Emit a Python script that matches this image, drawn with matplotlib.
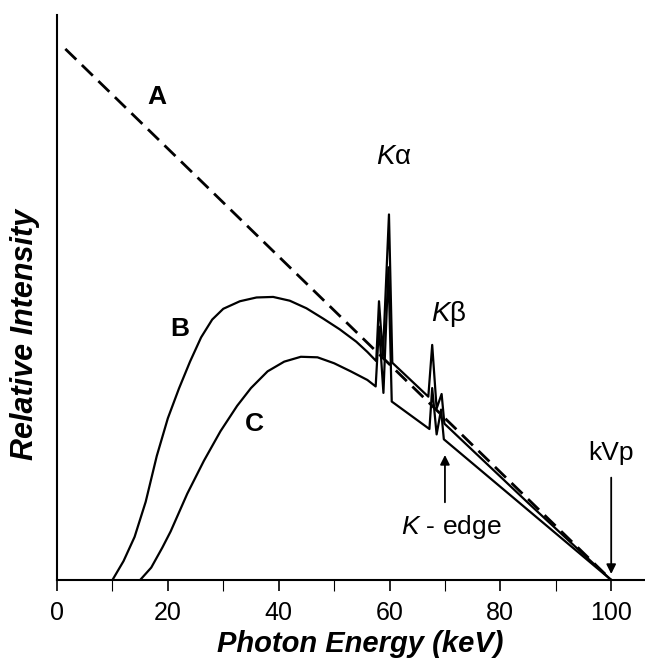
import matplotlib
matplotlib.use("Agg")
import matplotlib.pyplot as plt

plt.rcParams["font.family"] = ["Liberation Sans", "DejaVu Sans"]
plt.rcParams["mathtext.fontset"] = "custom"
plt.rcParams["mathtext.it"] = "Liberation Sans:italic"
plt.rcParams["mathtext.rm"] = "Liberation Sans"

# unfiltered spectrum (A)
energy_a = [1.5, 100]
intensity_a = [98.5, 0]

# filtered spectrum (B)
energy_b = [10, 12, 14, 16, 18, 20, 22, 24, 26, 28, 30, 33, 36, 39, 42, 45,
            48, 51, 54, 56, 57.6, 58.1, 58.8, 59.9, 60.5, 67.0, 67.7, 68.5,
            69.4, 69.9, 85, 100]
intensity_b = [0, 3.5, 8, 14.5, 23, 30, 35.5, 40.5, 45, 48.3, 50.3, 51.7,
               52.4, 52.5, 51.8, 50.4, 48.5, 46.5, 44.2, 42.3, 40.6, 51.7,
               41.5, 67.8, 40.3, 34.0, 43.6, 31.8, 34.5, 29.0, 14.3, 0]

# heavier filtration (C)
energy_c = [15, 17, 19, 20.5, 23.5, 26.5, 29.5, 32.5, 35, 38, 41, 44, 47,
            50, 53, 56, 57.5, 58.1, 58.9, 59.8, 60.4, 67.2, 67.7, 68.5, 69.3,
            69.8, 100]
intensity_c = [0, 2.3, 6, 9, 16, 22.1, 27.6, 32.3, 35.6, 38.7, 40.5, 41.4,
               41.3, 40.2, 38.7, 37.1, 35.9, 47, 34.7, 58, 33.1, 28, 35.6, 27,
               31.6, 26.1, 0]

major_ticks = [0, 20, 40, 60, 80, 100]
minor_ticks = [10, 30, 50, 70, 90]

fig = plt.figure(figsize=(6.45, 6.59), dpi=100)
ax = fig.add_axes([0.0884, 0.1199, 0.9116, 0.8574])

ax.plot(energy_a, intensity_a, color="black", lw=2, dashes=(5.5, 2.8))
ax.plot(energy_b, intensity_b, color="black", lw=1.6)
ax.plot(energy_c, intensity_c, color="black", lw=1.6)

ax.set_xlim(0, 106.1)
ax.set_ylim(0, 104.8)
for s in ["top", "right"]:
    ax.spines[s].set_visible(False)
ax.spines["left"].set_linewidth(1.5)
ax.spines["bottom"].set_linewidth(1.5)

ax.set_xticks(major_ticks)
ax.set_xticks(minor_ticks, minor=True)
ax.set_yticks([])
ax.tick_params(axis="x", which="major", direction="out", length=8, width=1.2,
               labelsize=18, pad=7)
ax.tick_params(axis="x", which="minor", direction="out", length=8, width=0.8)

ax.set_xlabel("Photon Energy (keV)", fontsize=21, fontweight="bold",
              fontstyle="italic")
ax.xaxis.set_label_coords(0.7585, -0.0885)
ax.xaxis.label.set_horizontalalignment("right")
ax.set_ylabel("Relative Intensity", fontsize=22, fontweight="bold",
              fontstyle="italic", va="center")
ax.yaxis.set_label_coords(-0.054, 0.434)

ax.text(18, 89.5, "A", fontsize=19, fontweight="bold", ha="center", va="center")
ax.text(22.1, 46.5, "B", fontsize=19, fontweight="bold", ha="center", va="center")
ax.text(35.7, 29, "C", fontsize=19, fontweight="bold", ha="center", va="center")

ax.text(60.8, 78.5, r"$K$α", fontsize=20, ha="center", va="center")
ax.text(70.6, 49.3, r"$K$β", fontsize=20, ha="center", va="center")
ax.text(71.2, 9.8, r"$K$ - edge", fontsize=19, ha="center", va="center")
ax.text(100, 23.5, "kVp", fontsize=19, ha="center", va="center")

arrow = dict(arrowstyle="-|>", color="black", lw=1.3, mutation_scale=14)
ax.annotate("", xy=(70, 23.7), xytext=(70, 13.9), arrowprops=arrow)
ax.annotate("", xy=(100, 0.6), xytext=(100, 19.5), arrowprops=arrow)

fig.savefig("out.png", dpi=100)
